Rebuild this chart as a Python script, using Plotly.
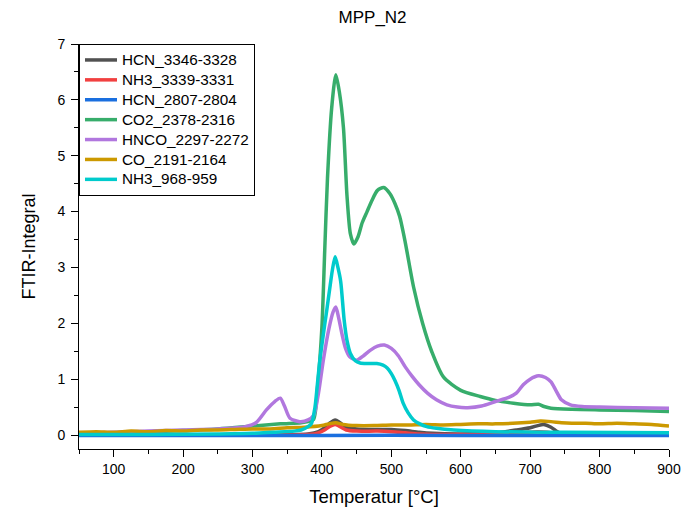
import plotly.graph_objects as go

names = ["HCN_3346-3328", "NH3_3339-3331", "HCN_2807-2804", "CO2_2378-2316",
         "HNCO_2297-2272", "CO_2191-2164", "NH3_968-959"]
colors = ["#515151", "#F14040", "#1A6FDF", "#37AD6B", "#B177DE", "#CC9900", "#00CBCC"]

hcn1_T = [50, 300, 380, 395, 405, 412, 419, 426, 435, 450, 480, 500, 520, 540, 560, 600, 650, 680, 700, 719, 730, 738, 745, 800, 900]
hcn1_v = [0.0, 0.0, 0.02, 0.06, 0.14, 0.22, 0.27, 0.22, 0.14, 0.11, 0.10, 0.10, 0.08, 0.05, 0.03, 0.02, 0.04, 0.09, 0.13, 0.19, 0.14, 0.07, 0.02, 0.01, 0.01]

nh3a_T = [50, 300, 380, 395, 405, 412, 419, 426, 435, 450, 480, 500, 520, 540, 560, 600, 650, 690, 710, 725, 740, 800, 900]
nh3a_v = [0.0, 0.0, 0.01, 0.04, 0.10, 0.16, 0.19, 0.15, 0.09, 0.07, 0.07, 0.06, 0.04, 0.02, 0.01, 0.01, 0.01, 0.04, 0.06, 0.05, 0.01, 0.0, 0.0]

hcn2_T = [50, 300, 500, 700, 900]
hcn2_v = [-0.01, -0.01, -0.005, -0.01, -0.01]

co2_T = [50, 100, 150, 200, 250, 300, 340, 370, 380, 388, 394, 400, 404, 408, 414, 420, 425, 431, 436, 441, 446, 452, 458, 465, 472, 480, 489, 498, 505, 512, 520, 532, 545, 558, 575, 600, 628, 650, 676, 700, 712, 720, 730, 760, 800, 850, 900]
co2_v = [0.02, 0.04, 0.06, 0.08, 0.11, 0.16, 0.20, 0.22, 0.24, 0.28, 0.9, 1.94, 3.3, 4.6, 5.85, 6.45, 6.15, 5.5, 4.3, 3.6, 3.42, 3.55, 3.8, 4.0, 4.2, 4.38, 4.43, 4.32, 4.15, 3.91, 3.45, 2.65, 2.0, 1.5, 1.04, 0.80, 0.69, 0.62, 0.57, 0.54, 0.55, 0.51, 0.48, 0.46, 0.45, 0.44, 0.42]

hnco_T = [50, 100, 150, 200, 250, 290, 305, 320, 332, 340, 346, 354, 368, 380, 388, 395, 402, 410, 416, 420, 424, 429, 434, 440, 450, 460, 470, 480, 490, 500, 510, 520, 530, 540, 552, 565, 580, 595, 610, 630, 650, 670, 680, 690, 700, 712, 722, 730, 737, 745, 758, 775, 800, 850, 900]
hnco_v = [0.03, 0.05, 0.07, 0.09, 0.11, 0.15, 0.22, 0.45, 0.60, 0.66, 0.52, 0.30, 0.24, 0.27, 0.35, 0.75, 1.34, 1.9, 2.2, 2.29, 2.1, 1.8, 1.55, 1.40, 1.34, 1.42, 1.52, 1.59, 1.61, 1.55, 1.42, 1.22, 1.05, 0.90, 0.75, 0.63, 0.54, 0.50, 0.49, 0.52, 0.60, 0.68, 0.75, 0.90, 1.0, 1.06, 1.03, 0.95, 0.80, 0.63, 0.54, 0.51, 0.50, 0.49, 0.48]

co_T = [50, 75, 100, 125, 150, 175, 200, 225, 250, 275, 300, 325, 350, 375, 400, 410, 420, 430, 450, 475, 500, 525, 550, 575, 600, 625, 650, 675, 700, 715, 730, 745, 760, 780, 800, 825, 850, 875, 900]
co_v = [0.05, 0.06, 0.05, 0.07, 0.06, 0.08, 0.07, 0.09, 0.09, 0.10, 0.11, 0.11, 0.13, 0.14, 0.17, 0.20, 0.22, 0.19, 0.17, 0.17, 0.18, 0.18, 0.19, 0.18, 0.19, 0.20, 0.20, 0.21, 0.23, 0.25, 0.24, 0.22, 0.21, 0.21, 0.20, 0.21, 0.20, 0.19, 0.16]

nh3b_T = [50, 150, 250, 300, 330, 360, 370, 380, 385, 390, 393, 397, 402, 407, 411, 415, 419, 423, 427, 432, 436, 441, 448, 455, 465, 479, 488, 494, 500, 505, 511, 517, 524, 532, 541, 551, 565, 590, 650, 750, 900]
nh3b_v = [0.01, 0.01, 0.02, 0.03, 0.05, 0.07, 0.09, 0.15, 0.21, 0.5, 0.85, 1.34, 1.8, 2.24, 2.6, 2.95, 3.19, 3.0, 2.75, 2.06, 1.7, 1.46, 1.33, 1.29, 1.28, 1.28, 1.25, 1.2, 1.1, 0.98, 0.8, 0.57, 0.4, 0.27, 0.2, 0.15, 0.12, 0.09, 0.06, 0.05, 0.04]

series = [(hcn1_T, hcn1_v), (nh3a_T, nh3a_v), (hcn2_T, hcn2_v), (co2_T, co2_v),
          (hnco_T, hnco_v), (co_T, co_v), (nh3b_T, nh3b_v)]

font_family = "Arial, Liberation Sans, sans-serif"

fig = go.Figure()
for (T, v), name, c in zip(series, names, colors):
    fig.add_trace(go.Scatter(x=T, y=v, mode="lines",
                             name='<span style="font-size:15.3px">' + name + '</span>',
                             line=dict(color=c, width=3.5, shape="spline", smoothing=0.7)))

axis_common = dict(showline=True, linecolor="black", linewidth=1, showgrid=False,
                   zeroline=False, ticks="outside", ticklen=7, tickcolor="black",
                   automargin=False,
                   tickfont=dict(size=14, color="black", family=font_family))

fig.update_xaxes(range=[50, 900], tick0=0, dtick=100,
                 minor=dict(dtick=50, ticks="outside", ticklen=4, tickcolor="black"),
                 title=dict(text="Temperatur [°C]", font=dict(size=18.5, color="black", family=font_family), standoff=14),
                 **axis_common)
fig.update_yaxes(range=[-0.25, 7], tick0=0, dtick=1,
                 minor=dict(dtick=0.5, ticks="outside", ticklen=4, tickcolor="black"),
                 ticklabelstandoff=3,
                 title=dict(text="FTIR-Integral", font=dict(size=18, color="black", family=font_family), standoff=17),
                 **axis_common)

fig.update_layout(
    width=699, height=510,
    margin=dict(l=79, r=30, t=44, b=61, autoexpand=False),
    paper_bgcolor="white", plot_bgcolor="white",
    title=dict(text="MPP_N2", x=0.533, xanchor="center", y=0.966, yanchor="middle",
               font=dict(size=17, color="black", family=font_family)),
    font=dict(family=font_family, color="black"),
    showlegend=True,
    legend=dict(x=0, y=1, xanchor="left", yanchor="top", bgcolor="rgba(255,255,255,0)",
                bordercolor="black", borderwidth=1, font=dict(size=13, color="black", family=font_family),
                tracegroupgap=0, itemwidth=32),
)

fig.write_html("out.html")
